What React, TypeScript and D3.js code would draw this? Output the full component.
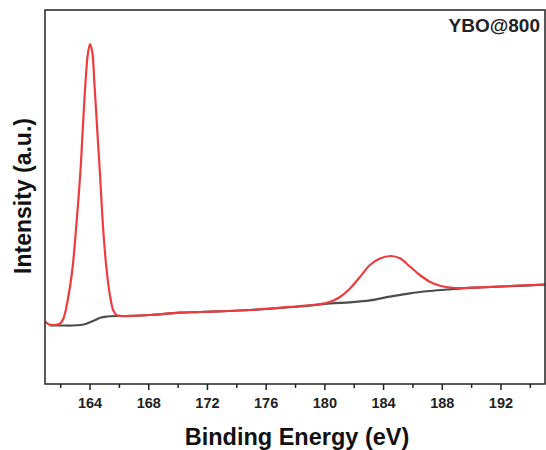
import React from "react";
import * as d3 from "d3";

const energyRed = [160.93, 161.2, 161.5, 161.8, 162.0, 162.2, 162.48, 162.79, 163.04, 163.35, 163.5, 163.7, 163.85, 164.0, 164.15, 164.3, 164.49, 164.66, 164.9, 165.13, 165.41, 165.6, 165.81, 166.1, 166.38, 167.2, 168.08, 170.13, 171.49, 174.9, 178.3, 179.5, 180.34, 181.03, 181.71, 182.39, 183.07, 183.75, 184.5, 185.11, 185.79, 186.47, 187.15, 187.84, 188.52, 189.54, 190.56, 192.6, 195];
const intensityRed = [62.5, 59.5, 59, 59.5, 61, 66, 84, 114, 154, 214, 254, 304, 330, 340, 332, 300, 254, 214, 154, 114, 84, 73, 69, 68, 67.8, 68.5, 69, 71.3, 72, 74, 78, 79.5, 82, 87, 95.5, 107, 119, 125.5, 128, 125.7, 117.5, 109, 102.3, 98.3, 96.5, 96, 96.7, 98, 99.5];

const energyBg = [161.27, 162.0, 162.8, 163.35, 163.7, 164.0, 164.35, 164.7, 165.1, 165.8, 166.38, 168.08, 170.13, 171.49, 174.9, 178.3, 180.34, 181.71, 183.07, 184.43, 185.79, 187.15, 188.52, 189.54, 190.56, 192.6, 195];
const intensityBg = [58.5, 58.5, 58.5, 59, 60, 61.8, 64, 66.2, 67.4, 68, 68, 69, 71.3, 72, 74, 77.5, 80.5, 81.7, 83.6, 87.3, 90.7, 93, 94.7, 95.8, 96.5, 97.8, 99.3];

const majorTicks = [164, 168, 172, 176, 180, 184, 188, 192];
const minorTicks = [162, 166, 170, 174, 178, 182, 186, 190, 194];
const xDomain = [160.93, 195];
const yDomain = [0, 374];

const W = 546, H = 450;
const M = { left: 45, right: 545, top: 10, bottom: 384 };

export default function App() {
  const x = d3.scaleLinear().domain(xDomain).range([M.left, M.right]);
  const y = d3.scaleLinear().domain(yDomain).range([M.bottom, M.top]);
  const line = d3
    .line<[number, number]>()
    .x((d) => x(d[0]))
    .y((d) => y(d[1]))
    .curve(d3.curveCatmullRom.alpha(0.5));
  const red = energyRed.map((e, i) => [e, intensityRed[i]] as [number, number]);
  const bg = energyBg.map((e, i) => [e, intensityBg[i]] as [number, number]);
  const font = "Arial, 'Liberation Sans', sans-serif";
  return (
    <svg width={W} height={H} style={{ position: "absolute", left: 0, top: 0, background: "#fff" }} fontFamily={font}>
      <defs>
        <clipPath id="clip">
          <rect x={M.left} y={M.top} width={M.right - M.left} height={M.bottom - M.top} />
        </clipPath>
      </defs>
      <g clipPath="url(#clip)">
        <path d={line(bg) || ""} fill="none" stroke="#4d4d4d" strokeWidth={2.2} />
        <path d={line(red) || ""} fill="none" stroke="#ee3b40" strokeWidth={2.2} />
      </g>
      <rect x={M.left} y={M.top} width={M.right - M.left} height={M.bottom - M.top} fill="none" stroke="#222" strokeWidth={1.5} />
      {majorTicks.map((t) => (
        <g key={"M" + t}>
          <line x1={x(t)} x2={x(t)} y1={M.bottom} y2={M.bottom + 6} stroke="#222" strokeWidth={1.5} />
          <text x={x(t)} y={408} textAnchor="middle" fontSize={14.5} fontWeight="bold" fill="#222">{t}</text>
        </g>
      ))}
      {minorTicks.map((t) => (
        <line key={"m" + t} x1={x(t)} x2={x(t)} y1={M.bottom} y2={M.bottom + 4} stroke="#222" strokeWidth={1.5} />
      ))}
      <text x={540} y={32} textAnchor="end" fontSize={19} fontWeight="bold" fill="#222">YBO@800</text>
      <text x={297} y={445} textAnchor="middle" fontSize={23.5} fontWeight="bold" fill="#111">Binding Energy (eV)</text>
      <text transform={`translate(31, 196) rotate(-90)`} textAnchor="middle" fontSize={23} fontWeight="bold" fill="#111">Intensity (a.u.)</text>
    </svg>
  );
}
